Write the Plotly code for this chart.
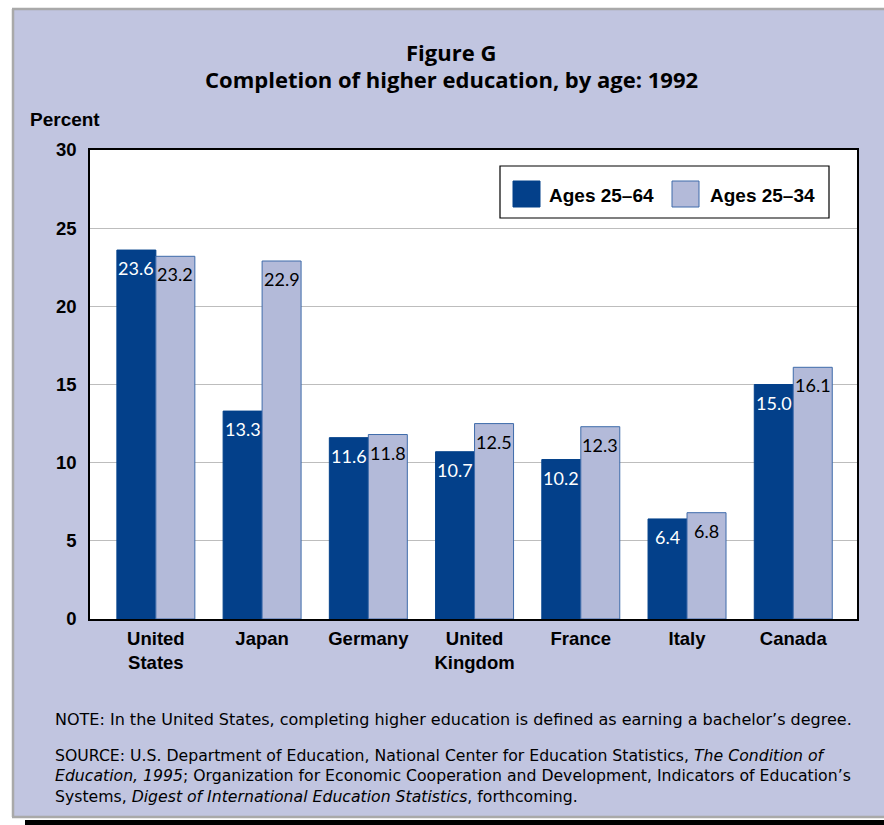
import plotly.graph_objects as go

# Data
countries = ["United States", "Japan", "Germany", "United Kingdom", "France", "Italy", "Canada"]
country_labels = ["United<br>States", "Japan", "Germany", "United<br>Kingdom", "France", "Italy", "Canada"]
ages_25_64 = [23.6, 13.3, 11.6, 10.7, 10.2, 6.4, 15.0]
ages_25_34 = [23.2, 22.9, 11.8, 12.5, 12.3, 6.8, 16.1]
series_names = ["Ages 25\u201364", "Ages 25\u201334"]
y_ticks = [0, 5, 10, 15, 20, 25, 30]

DARK = "#03408A"
LIGHT = "#B3BAD9"
LIGHT_EDGE = "#3E6BAA"
PANEL = "#C1C5E0"

W, H = 884, 825
L, R, T, B = 90, 857, 150, 619  # plot area in pixels
BARGAP = 0.266


def xp(px):
    return (px - L) / (R - L)


def yp(py):
    return (B - py) / (B - T)


xs = list(range(len(countries)))
half = (1 - BARGAP) / 4  # offset of each bar centre from its category centre

fig = go.Figure()
fig.add_trace(go.Bar(
    x=xs, y=ages_25_64, name=series_names[0],
    marker=dict(color=DARK, line=dict(color=DARK, width=1)),
))
fig.add_trace(go.Bar(
    x=xs, y=ages_25_34, name=series_names[1],
    marker=dict(color=LIGHT, line=dict(color=LIGHT_EDGE, width=1)),
))

shapes = []
# white margins and frame lines around the panel
shapes.append(dict(type="rect", xref="paper", yref="paper", x0=xp(0), x1=xp(W), y0=yp(0), y1=yp(8),
                   fillcolor="white", line=dict(width=0), layer="below"))
shapes.append(dict(type="rect", xref="paper", yref="paper", x0=xp(0), x1=xp(12), y0=yp(0), y1=yp(W),
                   fillcolor="white", line=dict(width=0), layer="below"))
shapes.append(dict(type="rect", xref="paper", yref="paper", x0=xp(0), x1=xp(W), y0=yp(818), y1=yp(H),
                   fillcolor="white", line=dict(width=0), layer="below"))
shapes.append(dict(type="rect", xref="paper", yref="paper", x0=xp(25), x1=xp(W + 2), y0=yp(820), y1=yp(H + 2),
                   fillcolor="black", line=dict(width=0), layer="below"))
for (x0, y0, x1, y1) in [(12, 9, W + 2, 9), (13, 9, 13, 817), (12, 817, W + 2, 817)]:
    shapes.append(dict(type="line", xref="paper", yref="paper", x0=xp(x0), x1=xp(x1), y0=yp(y0), y1=yp(y1),
                       line=dict(color="#A9A9A9", width=2.5), layer="below"))

# legend box
shapes.append(dict(type="rect", xref="paper", yref="paper", x0=xp(500), x1=xp(829), y0=yp(218), y1=yp(166),
                   fillcolor="white", line=dict(color="black", width=1.2), layer="above"))
shapes.append(dict(type="rect", xref="paper", yref="paper", x0=xp(513), x1=xp(540), y0=yp(207), y1=yp(181),
                   fillcolor=DARK, line=dict(color=DARK, width=1), layer="above"))
shapes.append(dict(type="rect", xref="paper", yref="paper", x0=xp(672), x1=xp(699), y0=yp(207), y1=yp(181),
                   fillcolor=LIGHT, line=dict(color=LIGHT_EDGE, width=1), layer="above"))

bold = dict(family="Liberation Sans", size=19, color="black", weight="bold")
tick_font = dict(family="Liberation Sans", size=18.5, color="black", weight="bold")
title_font = dict(family="Open Sans", size=22, color="black", weight="bold")
note_font = dict(family="DejaVu Sans", size=16, color="black")
source_font = dict(family="DejaVu Sans", size=15.7, color="black")
value_font = dict(family="Lato", size=18)

annotations = [
    dict(text="Figure G", x=xp(451), y=yp(52), font=title_font),
    dict(text="Completion of higher education, by age: 1992", x=xp(451), y=yp(79), font=title_font),
    dict(text="Percent", x=xp(28), y=yp(120), xanchor="left", font=bold),
    dict(text=series_names[0], x=xp(547), y=yp(195), xanchor="left", font=bold),
    dict(text=series_names[1], x=xp(708), y=yp(195), xanchor="left", font=bold),
    dict(text="NOTE: In the United States, completing higher education is defined as earning a bachelor\u2019s degree.",
         x=xp(53), y=yp(719), xanchor="left", font=note_font),
    dict(text="SOURCE: U.S. Department of Education, National Center for Education Statistics, <i>The Condition of</i><br>"
              "<i>Education, 1995</i>; Organization for Economic Cooperation and Development, Indicators of Education\u2019s<br>"
              "Systems, <i>Digest of International Education Statistics</i>, forthcoming.",
         x=xp(53), y=yp(744), xanchor="left", yanchor="top", align="left", font=source_font),
]
for a in annotations:
    a.update(xref="paper", yref="paper", showarrow=False)
    a.setdefault("xanchor", "center")
    a.setdefault("yanchor", "middle")

# value labels just inside the top of each bar
for i, (v1, v2) in enumerate(zip(ages_25_64, ages_25_34)):
    annotations.append(dict(x=i - half, y=v1, xref="x", yref="y", text=f"{v1:.1f}", showarrow=False,
                            yanchor="middle", yshift=-18, font=dict(value_font, color="white")))
    annotations.append(dict(x=i + half, y=v2, xref="x", yref="y", text=f"{v2:.1f}", showarrow=False,
                            yanchor="middle", yshift=-18, font=dict(value_font, color="black")))

fig.update_layout(
    width=W, height=H,
    margin=dict(l=L, r=W - R, t=T, b=H - B, pad=0),
    paper_bgcolor=PANEL, plot_bgcolor="white",
    barmode="group", bargap=BARGAP, bargroupgap=0,
    showlegend=False,
    shapes=shapes, annotations=annotations,
    xaxis=dict(
        range=[-0.62, 6.6], tickvals=xs, ticktext=country_labels,
        showline=True, mirror=True, linecolor="black", linewidth=1.5,
        ticks="", showgrid=False, zeroline=False, tickfont=tick_font, ticklabelstandoff=2,
    ),
    yaxis=dict(
        range=[0, 30], tickvals=y_ticks, showline=True, mirror=True, linecolor="black", linewidth=1.5,
        ticks="", showgrid=True, gridcolor="#BDBDBD", gridwidth=1, zeroline=False,
        tickfont=tick_font, ticklabelstandoff=8,
    ),
)

fig.write_html("out.html")
